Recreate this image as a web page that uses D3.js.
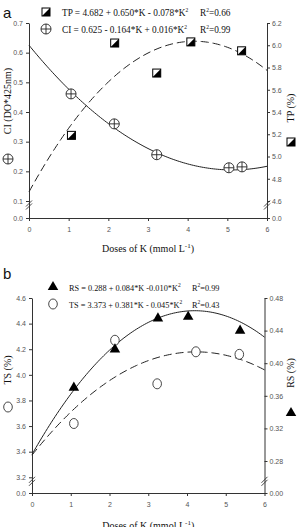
<!DOCTYPE html>
<html><head><meta charset="utf-8">
<script src="https://cdn.jsdelivr.net/npm/d3@7"></script>
<style>
html,body{margin:0;padding:0;background:#fff;}
svg{display:block;}
.tick text{font-family:Arial,"Liberation Sans",sans-serif;font-size:7px;fill:#555;}
.serif{font-family:"Liberation Serif","Times New Roman",serif;fill:#111;}
</style></head><body>
<script>
// ---- data ----
const doses = [0,1,2,3,4,5,6];
// panel a
const tpK = [1.07, 2.16, 3.22, 4.08, 5.36];
const tpVal = [5.19, 6.02, 5.75, 6.03, 5.95];
const ciK = [1.06, 2.15, 3.22, 5.04, 5.37];
const ciVal = [0.461, 0.360, 0.256, 0.212, 0.215];
const tpCoef = [4.682, 0.650, -0.078];
const ciCoef = [0.625, -0.164, 0.016];
const ciTicks = [0.0, 0.1, 0.2, 0.3, 0.4, 0.5, 0.6, 0.7];
const tpTicks = [0.0, 4.6, 4.8, 5.0, 5.2, 5.4, 5.6, 5.8, 6.0, 6.2];
// panel b
const rsK = [1.08, 2.14, 3.25, 4.03, 5.37];
const rsVal = [0.370, 0.417, 0.455, 0.457, 0.440];
const tsK = [1.08, 2.14, 3.23, 4.23, 5.35];
const tsVal = [3.62, 4.27, 3.93, 4.18, 4.16];
const rsCoef = [0.288, 0.084, -0.010];
const tsCoef = [3.373, 0.381, -0.045];
const tsTicks = [0.0, 3.2, 3.4, 3.6, 3.8, 4.0, 4.2, 4.4, 4.6];
const rsTicks = [0.00, 0.28, 0.32, 0.36, 0.40, 0.44, 0.48];

const W = 302, H = 527;
const svg = d3.select("body").append("svg").attr("width", W).attr("height", H);
const ink = "#222";
const quad = c => k => c[0] + c[1]*k + c[2]*k*k;
const kSamples = d3.range(0, 6.0001, 0.05);

function drawPanel(o){
  const g = svg.append("g");
  const x = d3.scaleLinear().domain([0,6]).range([o.x0, o.x1]);
  const yL = d3.scaleLinear().domain([0, o.lBreak, o.lMax]).range([o.yBase, o.yBreak, o.yTop]);
  const yR = d3.scaleLinear().domain([0, o.rBreak, o.rMax]).range([o.yBase, o.yBreak, o.yTop]);

  // axes
  const ax = g.append("g").attr("transform", `translate(0,${o.yBase})`)
    .call(d3.axisBottom(x).tickValues(doses).tickFormat(d3.format("d")).tickSize(3).tickPadding(6).tickSizeOuter(0));
  const al = g.append("g").attr("transform", `translate(${o.x0},0)`)
    .call(d3.axisLeft(yL).tickValues(o.lTicks).tickFormat(d3.format(o.lFmt)).tickSize(3).tickPadding(3).tickSizeOuter(0));
  const ar = g.append("g").attr("transform", `translate(${o.x1},0)`)
    .call(d3.axisRight(yR).tickValues(o.rTicks).tickFormat(d3.format(o.rFmt)).tickSize(3).tickPadding(2).tickSizeOuter(0));
  [ax, al, ar].forEach(a => { a.select(".domain").attr("stroke", "#333"); a.selectAll(".tick line").attr("stroke", "#333"); });

  // break marks
  const yb = o.yBreak + 4;
  [o.x0, o.x1].forEach(xx => {
    [-1.5, 1.5].forEach(dy => {
      g.append("line").attr("x1", xx-3).attr("y1", yb+dy+3).attr("x2", xx+3).attr("y2", yb+dy-3)
        .attr("stroke", "#333").attr("stroke-width", 0.9);
    });
  });

  // curves
  const lineL = d3.line().x(k => x(k)).y(k => yL(quad(o.lCoef)(k))).curve(d3.curveMonotoneX);
  const lineR = d3.line().x(k => x(k)).y(k => yR(quad(o.rCoef)(k))).curve(d3.curveMonotoneX);
  g.append("path").attr("d", lineL(kSamples)).attr("fill", "none").attr("stroke", ink)
    .attr("stroke-width", 1).attr("stroke-dasharray", o.lDash ? "8,4" : null);
  g.append("path").attr("d", lineR(kSamples)).attr("fill", "none").attr("stroke", ink)
    .attr("stroke-width", 1).attr("stroke-dasharray", o.rDash ? "8,4" : null);

  // points
  o.lK.forEach((k,i) => o.lSym(g, x(k), yL(o.lVal[i])));
  o.rK.forEach((k,i) => o.rSym(g, x(k), yR(o.rVal[i])));

  // panel letter
  g.append("text").attr("x", 3).attr("y", o.letterY).text(o.letter)
    .attr("font-family", "Arial,'Liberation Sans',sans-serif").attr("font-size", 15).attr("fill", "#111");

  // legend
  o.legend.forEach((L, i) => {
    const ly = o.legY + i*17;
    L.sym(g, o.legSymX, ly);
    const t = g.append("text").attr("class", "serif").attr("x", o.legTextX).attr("y", ly+3.5).attr("font-size", o.legFont);
    t.append("tspan").text(L.eq);
    t.append("tspan").text("2").attr("font-size", 5.5).attr("dy", -3.5);
    const r = g.append("text").attr("class", "serif").attr("x", o.legRX).attr("y", ly+3.5).attr("font-size", o.legFont);
    r.append("tspan").text("R");
    r.append("tspan").text("2").attr("font-size", 5.5).attr("dy", -3.5);
    r.append("tspan").text("=" + L.r2).attr("dy", 3.5);
  });

  // axis titles
  g.append("text").attr("class", "serif").attr("font-size", 10)
    .attr("transform", `translate(${o.lLabX},${o.lLabY}) rotate(-90)`).attr("text-anchor", "middle").text(o.lTitle);
  o.lSym(g, o.lLabX - 3, o.lSymY);
  g.append("text").attr("class", "serif").attr("font-size", 10)
    .attr("transform", `translate(${o.rLabX},${o.rLabY}) rotate(-90)`).attr("text-anchor", "middle").text(o.rTitle);
  o.rSym(g, o.rLabX - 3, o.rSymY);

  const xt = g.append("text").attr("class", "serif").attr("font-size", 10).attr("text-anchor", "middle")
    .attr("x", (o.x0 + o.x1)/2).attr("y", o.xLabY);
  xt.append("tspan").text("Doses of K (mmol L");
  xt.append("tspan").text("-1").attr("font-size", 7).attr("dy", -4);
  xt.append("tspan").text(")").attr("dy", 4);
}

// symbols
function symCrossCircle(g, cx, cy){
  g.append("circle").attr("cx", cx).attr("cy", cy).attr("r", 5).attr("fill", "#fff").attr("stroke", ink).attr("stroke-width", 0.9);
  g.append("line").attr("x1", cx-5).attr("x2", cx+5).attr("y1", cy).attr("y2", cy).attr("stroke", ink).attr("stroke-width", 0.9);
  g.append("line").attr("x1", cx).attr("x2", cx).attr("y1", cy-5).attr("y2", cy+5).attr("stroke", ink).attr("stroke-width", 0.9);
}
function symHalfSquare(g, cx, cy){
  const s = 4;
  g.append("rect").attr("x", cx-s).attr("y", cy-s).attr("width", 2*s).attr("height", 2*s).attr("fill", "#fff").attr("stroke", "#000").attr("stroke-width", 1);
  g.append("path").attr("d", `M${cx+s},${cy-s}L${cx+s},${cy+s}L${cx-s},${cy+s}Z`).attr("fill", "#000");
}
function symTriangle(g, cx, cy){
  g.append("path").attr("d", d3.symbol().type(d3.symbolTriangle).size(48)()).attr("transform", `translate(${cx},${cy})`).attr("fill", "#000");
}
function symOpenCircle(g, cx, cy){
  g.append("ellipse").attr("cx", cx).attr("cy", cy).attr("rx", 4.3).attr("ry", 5).attr("fill", "#fff").attr("stroke", "#333").attr("stroke-width", 0.9);
}

drawPanel({
  x0: 29, x1: 267, yBase: 218, yBreak: 201, yTop: 23,
  lBreak: 0.1, lMax: 0.7, rBreak: 4.6, rMax: 6.2,
  lTicks: ciTicks, rTicks: tpTicks, lFmt: ".1f", rFmt: ".1f",
  lCoef: ciCoef, rCoef: tpCoef, lDash: false, rDash: true,
  lK: ciK, lVal: ciVal, rK: tpK, rVal: tpVal,
  lSym: symCrossCircle, rSym: symHalfSquare,
  letter: "a", letterY: 18,
  legY: 12, legSymX: 46, legTextX: 62, legRX: 200, legFont: 9.3,
  legend: [
    {sym: symHalfSquare, eq: "TP = 4.682 + 0.650*K - 0.078*K", r2: "0.66"},
    {sym: symCrossCircle, eq: "CI = 0.625 - 0.164*K + 0.016*K", r2: "0.99"}
  ],
  lTitle: "CI (DO*425nm)", lLabX: 11, lLabY: 101, lSymY: 159,
  rTitle: "TP (%)", rLabX: 294, rLabY: 108, rSymY: 142,
  xLabY: 252
});

drawPanel({
  x0: 32, x1: 264.5, yBase: 493, yBreak: 477.3, yTop: 298,
  lBreak: 3.2, lMax: 4.6, rBreak: 0.26, rMax: 0.48,
  lTicks: tsTicks, rTicks: rsTicks, lFmt: ".1f", rFmt: ".2f",
  lCoef: tsCoef, rCoef: rsCoef, lDash: true, rDash: false,
  lK: tsK, lVal: tsVal, rK: rsK, rVal: rsVal,
  lSym: symOpenCircle, rSym: symTriangle,
  letter: "b", letterY: 279,
  legY: 287, legSymX: 53, legTextX: 69, legRX: 192, legFont: 8.3,
  legend: [
    {sym: symTriangle, eq: "RS = 0.288 + 0.084*K -0.010*K", r2: "0.99"},
    {sym: symOpenCircle, eq: "TS = 3.373 + 0.381*K - 0.045*K", r2: "0.43"}
  ],
  lTitle: "TS (%)", lLabX: 11, lLabY: 370, lSymY: 407,
  rTitle: "RS (%)", rLabX: 294, rLabY: 373, rSymY: 413,
  xLabY: 529
});
</script>
</body></html>
